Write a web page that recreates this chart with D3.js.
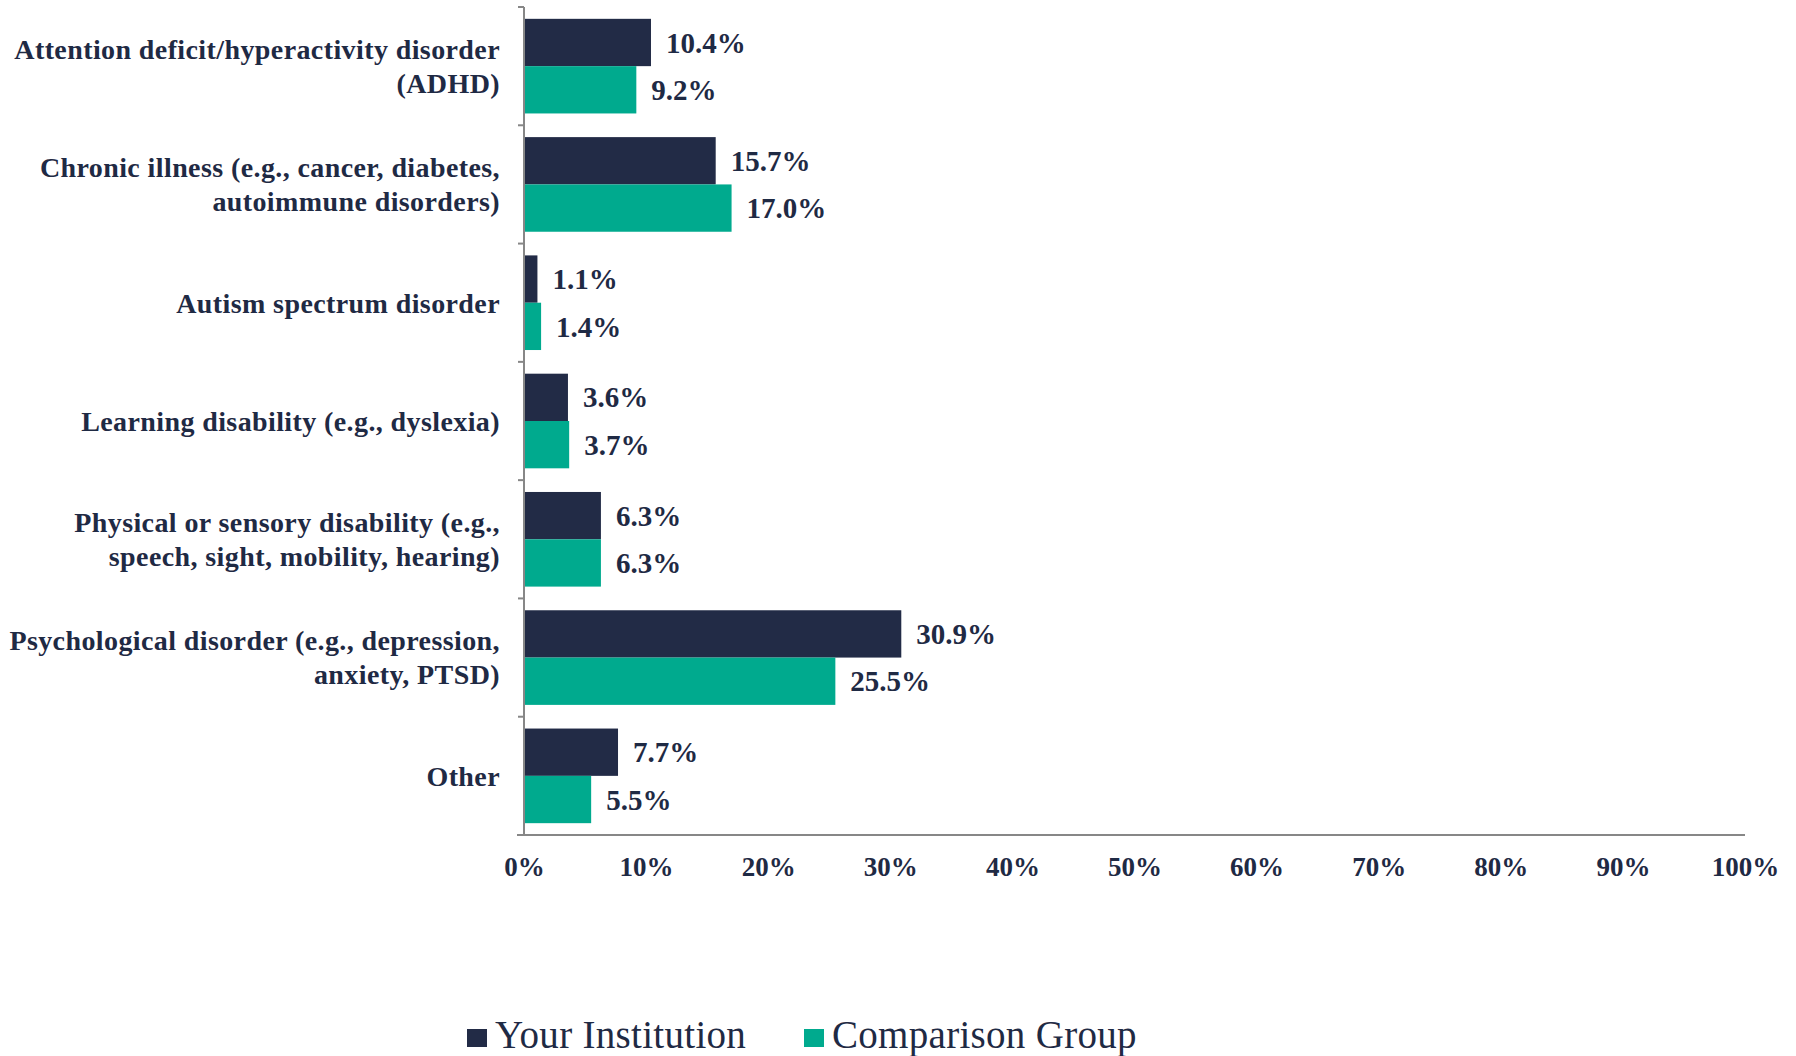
<!DOCTYPE html>
<html>
<head>
<meta charset="utf-8">
<script src="https://cdn.jsdelivr.net/npm/d3@7"></script>
<style>
  html, body { margin: 0; padding: 0; background: #fff; }
  svg { display: block; }
</style>
</head>
<body>
<div id="chart"></div>
<script>
// category labels, one entry per line of text
const categories = [
  ["Attention deficit/hyperactivity disorder", "(ADHD)"],
  ["Chronic illness (e.g., cancer, diabetes,", "autoimmune disorders)"],
  ["Autism spectrum disorder"],
  ["Learning disability (e.g., dyslexia)"],
  ["Physical or sensory disability (e.g.,", "speech, sight, mobility, hearing)"],
  ["Psychological disorder (e.g., depression,", "anxiety, PTSD)"],
  ["Other"]
];
const seriesNames = ["Your Institution", "Comparison Group"];
const yourInstitution = [10.4, 15.7, 1.1, 3.6, 6.3, 30.9, 7.7];
const comparisonGroup = [9.2, 17.0, 1.4, 3.7, 6.3, 25.5, 5.5];
const xTicks = [0, 10, 20, 30, 40, 50, 60, 70, 80, 90, 100];

(function () {
  const width = 1796;
  const height = 1056;
  const margin = { top: 7, right: 51, bottom: 221, left: 524 };
  const navy = "#222b46";
  const green = "#00aa8e";
  const textColor = "#1f2a44";
  const axisColor = "#878787";
  const font = "'Liberation Serif', 'Times New Roman', serif";

  const svg = d3.select("#chart").append("svg")
    .attr("width", width)
    .attr("height", height)
    .attr("viewBox", `0 0 ${width} ${height}`);

  const rows = categories.map((lines, i) => ({
    key: i,
    lines,
    values: [yourInstitution[i], comparisonGroup[i]]
  }));

  const xScale = d3.scaleLinear()
    .domain([0, 100])
    .range([margin.left, width - margin.right]);

  const yScale = d3.scaleBand()
    .domain(rows.map((d) => d.key))
    .range([margin.top, height - margin.bottom])
    .paddingInner(0.2)
    .paddingOuter(0.1);

  const subScale = d3.scaleBand()
    .domain([0, 1])
    .range([0, yScale.bandwidth()]);

  const step = yScale.step();
  const plotTop = margin.top;
  const plotBottom = height - margin.bottom;

  // bars
  const groups = svg.append("g").attr("class", "bars")
    .selectAll("g")
    .data(rows)
    .join("g")
    .attr("transform", (d) => `translate(0, ${yScale(d.key)})`);

  groups.selectAll("rect")
    .data((d) => d.values.map((v, s) => ({ v, s })))
    .join("rect")
    .attr("x", xScale(0))
    .attr("y", (d) => subScale(d.s))
    .attr("width", (d) => xScale(d.v) - xScale(0))
    .attr("height", subScale.bandwidth())
    .attr("fill", (d) => (d.s === 0 ? navy : green));

  groups.selectAll("text.value")
    .data((d) => d.values.map((v, s) => ({ v, s })))
    .join("text")
    .attr("class", "value")
    .attr("x", (d) => xScale(d.v) + 15)
    .attr("y", (d) => subScale(d.s) + subScale.bandwidth() / 2)
    .attr("dy", "0.35em")
    .attr("font-family", font)
    .attr("font-weight", "bold")
    .attr("font-size", 29)
    .attr("fill", textColor)
    .text((d) => `${d.v.toFixed(1)}%`);

  // y axis line with ticks on category boundaries
  const yAxis = svg.append("g").attr("class", "axis axis--y");
  yAxis.append("line")
    .attr("x1", margin.left).attr("x2", margin.left)
    .attr("y1", plotTop).attr("y2", plotBottom)
    .attr("stroke", axisColor).attr("stroke-width", 2);
  d3.range(rows.length + 1).forEach((i) => {
    const y = plotTop + i * step;
    yAxis.append("line")
      .attr("x1", margin.left - 6).attr("x2", margin.left)
      .attr("y1", y).attr("y2", y)
      .attr("stroke", axisColor).attr("stroke-width", 2);
  });

  // category labels
  const labelGroup = svg.append("g").attr("class", "category-labels");
  rows.forEach((d) => {
    const cy = yScale(d.key) + yScale.bandwidth() / 2;
    const lineH = 34;
    const first = cy - ((d.lines.length - 1) * lineH) / 2;
    const t = labelGroup.append("text")
      .attr("text-anchor", "end")
      .attr("font-family", font)
      .attr("font-weight", "bold")
      .attr("font-size", 28)
      .attr("letter-spacing", 0.4)
      .attr("fill", textColor);
    d.lines.forEach((line, j) => {
      t.append("tspan")
        .attr("x", margin.left - 24)
        .attr("y", first + j * lineH)
        .attr("dy", "0.35em")
        .text(line);
    });
  });

  // x axis
  const xAxis = d3.axisBottom(xScale)
    .tickValues(xTicks)
    .tickSize(0)
    .tickPadding(22)
    .tickFormat((d) => `${d}%`);
  svg.append("g")
    .attr("class", "axis axis--x")
    .attr("transform", `translate(0, ${plotBottom})`)
    .call(xAxis)
    .call((g) => g.select(".domain").remove())
    .call((g) => g.selectAll("text")
      .attr("font-family", font)
      .attr("font-weight", "bold")
      .attr("font-size", 27)
      .attr("fill", textColor));
  svg.append("line")
    .attr("x1", margin.left - 7).attr("x2", xScale(100))
    .attr("y1", plotBottom).attr("y2", plotBottom)
    .attr("stroke", axisColor).attr("stroke-width", 2);

  // legend
  const legend = svg.append("g").attr("class", "legend");
  const legendItems = [
    { label: seriesNames[0], color: navy, x: 467 },
    { label: seriesNames[1], color: green, x: 804 }
  ];
  legendItems.forEach((item) => {
    const g = legend.append("g").attr("transform", `translate(${item.x}, 1029)`);
    g.append("rect")
      .attr("width", 20).attr("height", 18)
      .attr("fill", item.color);
    g.append("text")
      .attr("x", 28)
      .attr("y", 19)
      .attr("font-family", font)
      .attr("font-size", 39)
      .attr("letter-spacing", 0.3)
      .attr("fill", textColor)
      .text(item.label);
  });
})();
</script>
</body>
</html>
